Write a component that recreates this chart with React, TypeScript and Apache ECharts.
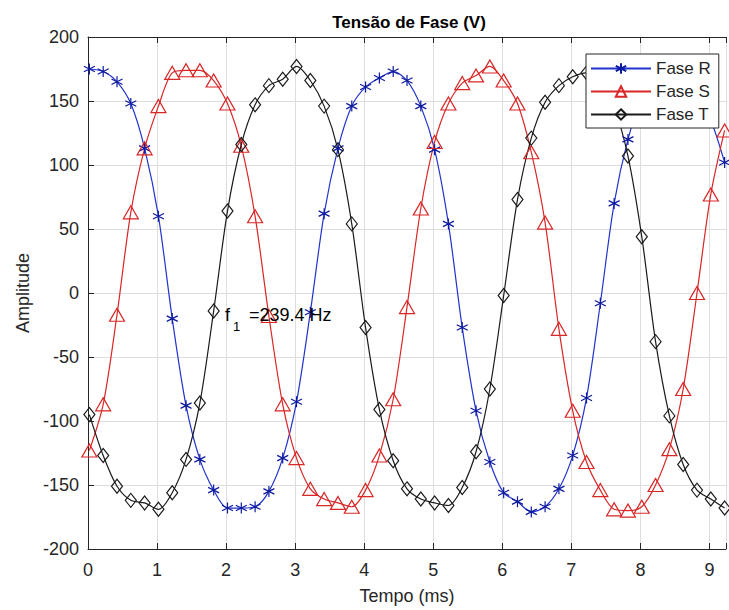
import React, { useEffect, useRef } from "react";
import * as echarts from "echarts";

// Marker sample times (ms)
const T_MS = [
  0.02, 0.22, 0.42, 0.62, 0.82, 1.02, 1.22, 1.42, 1.62, 1.82,
  2.02, 2.22, 2.42, 2.62, 2.82, 3.02, 3.22, 3.42, 3.62, 3.82,
  4.02, 4.22, 4.42, 4.62, 4.82, 5.02, 5.22, 5.42, 5.62, 5.82,
  6.02, 6.22, 6.42, 6.62, 6.82, 7.02, 7.22, 7.42, 7.62, 7.82,
  8.02, 8.22, 8.42, 8.62, 8.82, 9.02, 9.22,
];

const FASE_R = [
  175, 173, 165, 148, 113, 60, -20, -88, -130, -154,
  -168, -168, -167, -155, -129, -85, -15, 62, 113, 146,
  161, 168, 173, 166, 146, 112, 54, -27, -92, -132,
  -156, -163, -171, -167, -153, -127, -82, -8, 70, 120,
  152, 166, 172, 168, 155, 135, 102,
];

const FASE_S = [
  -123, -87, -17, 63, 113, 146, 172, 174, 174, 166,
  148, 115, 60, -18, -87, -129, -153, -161, -164, -167,
  -154, -127, -83, -11, 66, 118, 148, 164, 170, 177,
  166, 148, 110, 55, -28, -92, -132, -154, -169, -170,
  -167, -150, -122, -75, 0, 77, 127,
];

const FASE_T = [
  -95, -127, -151, -162, -164, -169, -156, -130, -86, -14,
  64, 116, 147, 162, 167, 177, 166, 146, 112, 54,
  -27, -91, -131, -153, -161, -164, -166, -152, -124, -75,
  -2, 73, 121, 149, 162, 169, 172, 165, 145, 107,
  44, -38, -96, -134, -154, -161, -168,
];

const X_TICKS = [0, 1, 2, 3, 4, 5, 6, 7, 8, 9];
const Y_TICKS = [-200, -150, -100, -50, 0, 50, 100, 150, 200];

const FONT = "'Liberation Sans', Arial, Helvetica, sans-serif";
const TXT = "#262626";
const STAR = "path://M5,0 L5,10 M0.67,2.5 L9.33,7.5 M0.67,7.5 L9.33,2.5";

function makeSeries(
  name: string,
  vals: number[],
  lineColor: string,
  markColor: string,
  symbol: string,
  size: number | number[]
) {
  return {
    type: "line",
    name,
    data: T_MS.map((t, i) => [t, vals[i]]),
    smooth: 0.3,
    symbol,
    symbolSize: size,
    showAllSymbol: true,
    lineStyle: { color: lineColor, width: 1.2 },
    itemStyle: { color: "transparent", borderColor: markColor, borderWidth: 1.2 },
    emphasis: { disabled: true },
    clip: true,
  };
}

export default function App() {
  const ref = useRef<HTMLDivElement>(null);

  useEffect(() => {
    if (!ref.current) return;
    const chart = echarts.init(ref.current, null, { renderer: "svg" });
    const xAxisCommon = {
      type: "value",
      min: 0,
      max: 9.24,
      interval: 1,
    };
    chart.setOption({
      animation: false,
      grid: { left: 88, top: 37, right: 0, bottom: 60 },
      xAxis: [
        {
          ...xAxisCommon,
          position: "bottom",
          name: "Tempo (ms)",
          nameLocation: "middle",
          nameGap: 38,
          nameTextStyle: { color: TXT, fontSize: 18, fontFamily: FONT },
          axisLine: { show: true, onZero: false, lineStyle: { color: TXT, width: 1 } },
          axisTick: { show: true, inside: true, length: 6, lineStyle: { color: TXT } },
          axisLabel: {
            color: TXT,
            fontSize: 18,
            fontFamily: FONT,
            margin: 12,
            formatter: (v: number) => (X_TICKS.includes(v) ? String(v) : ""),
          },
          splitLine: { show: true, lineStyle: { color: "#dedede", width: 1 } },
        },
        {
          ...xAxisCommon,
          position: "top",
          axisLine: { show: true, onZero: false, lineStyle: { color: TXT, width: 1 } },
          axisTick: { show: true, inside: true, length: 6, lineStyle: { color: TXT } },
          axisLabel: { show: false },
          splitLine: { show: false },
        },
      ],
      yAxis: {
        type: "value",
        min: -200,
        max: 200,
        interval: 50,
        name: "Amplitude",
        nameLocation: "middle",
        nameGap: 56,
        nameTextStyle: { color: TXT, fontSize: 18, fontFamily: FONT },
        axisLine: { show: true, onZero: false, lineStyle: { color: TXT, width: 1 } },
        axisTick: { show: true, inside: true, length: 6, lineStyle: { color: TXT } },
        axisLabel: {
          color: TXT,
          fontSize: 18,
          fontFamily: FONT,
          margin: 9,
          formatter: (v: number) => (Y_TICKS.includes(v) ? String(v) : ""),
        },
        splitLine: { show: true, lineStyle: { color: "#dedede", width: 1 } },
      },
      legend: {
        orient: "vertical",
        left: 586,
        top: 54,
        padding: [6, 8, 5, 4],
        itemGap: 6,
        itemWidth: 60,
        itemHeight: 13,
        backgroundColor: "#ffffff",
        borderColor: TXT,
        borderWidth: 1,
        borderRadius: 0,
        textStyle: { color: TXT, fontSize: 17, fontFamily: FONT },
        data: ["Fase R", "Fase S", "Fase T"],
      },
      graphic: [
        {
          type: "text",
          x: 409,
          y: 22,
          style: {
            text: "Tensão de Fase (V)",
            font: `bold 17px ${FONT}`,
            fill: "#000",
            textAlign: "center",
            textVerticalAlign: "middle",
          },
        },
        {
          type: "text",
          x: 225,
          y: 315,
          style: {
            text: "f",
            font: `18px ${FONT}`,
            fill: "#000",
            textAlign: "left",
            textVerticalAlign: "middle",
          },
          z: 10,
        },
        {
          type: "text",
          x: 233,
          y: 326,
          style: {
            text: "1",
            font: `13px ${FONT}`,
            fill: "#000",
            textAlign: "left",
            textVerticalAlign: "middle",
          },
          z: 10,
        },
        {
          type: "text",
          x: 249,
          y: 315,
          style: {
            text: "=239.4 Hz",
            font: `18px ${FONT}`,
            fill: "#000",
            textAlign: "left",
            textVerticalAlign: "middle",
          },
          z: 10,
        },
      ],
      series: [
        makeSeries("Fase R", FASE_R, "#2233cc", "#0d1a9e", STAR, 11),
        makeSeries("Fase S", FASE_S, "#d92626", "#d92626", "triangle", [15, 13]),
        makeSeries("Fase T", FASE_T, "#1a1a1a", "#1a1a1a", "diamond", [11, 14]),
      ],
    });
    return () => chart.dispose();
  }, []);

  return (
    <div
      ref={ref}
      style={{ position: "fixed", left: 0, top: 0, width: 729, height: 610, background: "#fff" }}
    />
  );
}
